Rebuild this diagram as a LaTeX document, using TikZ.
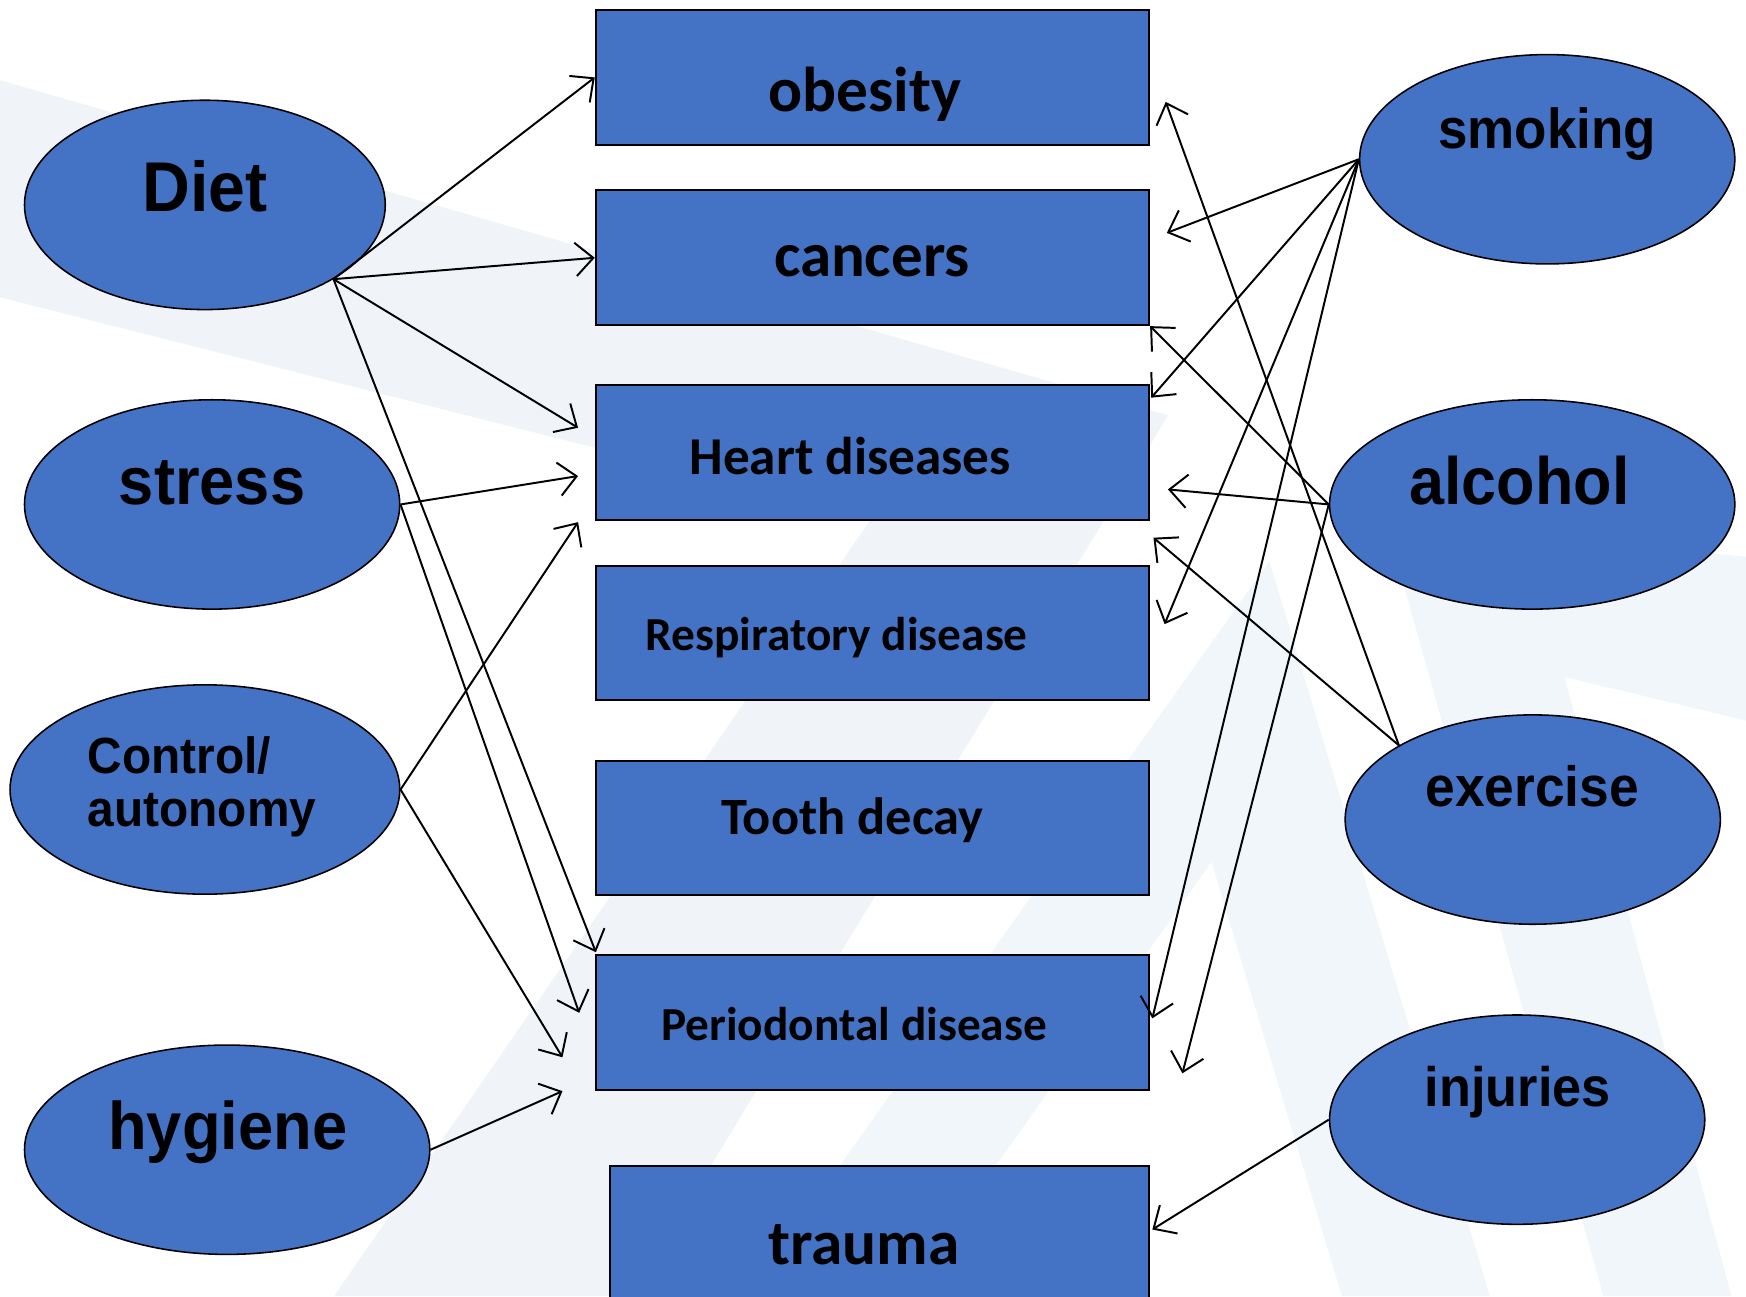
\documentclass[tikz,border=0pt]{standalone}
\usepackage{fontspec}
\setmainfont{Carlito}
\newfontfamily\ovalfont[FakeStretch=0.94]{Liberation Sans}
\usetikzlibrary{shapes.geometric,arrows.meta}
\definecolor{boxblue}{RGB}{68,114,196}
\definecolor{markgrey}{RGB}{240,244,248}
\definecolor{markblue}{RGB}{240,246,250}

\begin{document}
\begin{tikzpicture}[x=0.1mm,y=-0.1mm,
  disease/.style={draw=black,line width=0.5pt,fill=boxblue,minimum width=49.7mm,minimum height=12.1mm,inner sep=0pt},
  factor/.style={ellipse,draw=black,line width=0.4pt,fill=boxblue,minimum height=18.8mm,inner sep=0pt},
  dlabel/.style={anchor=base,inner sep=0pt,font=\bfseries\fontsize{#1}{#1}\selectfont},
  flabel/.style={anchor=base,inner sep=0pt,font=\ovalfont\bfseries\fontsize{#1}{#1}\selectfont},
  link/.style={line width=0.5pt,-{Straight Barb[length=1.6mm,width=3mm]}}]
      \useasboundingbox (0,0) rectangle (1568,1164);
      % watermark
      \fill[markgrey] (0,72) -- (1049,373) -- (567,1164) -- (300,1164) -- (783,465) -- (0,267) -- cycle;
      \fill[markblue] (1140,504) -- (1338,1164) -- (1205,1164) -- (1088,774) -- (811,1164) -- (671,1164) -- cycle;
      \fill[markblue] (1245,470) -- (1568,500) -- (1568,647) -- (1405,608) -- (1555,1164) -- (1440,1164) -- cycle;
      % diseases
      \node[disease] (obesity) at (783.5,69.5) {};
      \node[disease] (cancers) at (783.5,231.5) {};
      \node[disease] (heart) at (783.5,406.5) {};
      \node[disease] (resp) at (783.5,568.5) {};
      \node[disease] (tooth) at (783.5,743.5) {};
      \node[disease] (perio) at (783.5,918.5) {};
      \node[disease,minimum width=48.4mm,minimum height=15mm] (trauma) at (790,1122) {};
      \node[dlabel=16.2] (obesity-l) at (776.5,100) {obesity};
      \node[dlabel=16.1] (cancers-l) at (783,248) {cancers};
      \node[dlabel=13.6] (heart-l) at (763.5,426.5) {Heart diseases};
      \node[dlabel=12.1] (resp-l) at (751.5,584) {Respiratory disease};
      \node[dlabel=13.4] (tooth-l) at (765.5,749) {Tooth decay};
      \node[dlabel=12.1] (perio-l) at (767,934) {Periodontal disease};
      \node[dlabel=16.2] (trauma-l) at (776,1136) {trauma};
      % factors
      \node[factor,minimum width=32.4mm] (diet) at (184,184) {};
      \node[factor,minimum width=33.7mm] (stress) at (190.5,453) {};
      \node[factor,minimum width=35mm] (control) at (184,709) {};
      \node[factor,minimum width=36.4mm] (hygiene) at (204,1032.5) {};
      \node[factor,minimum width=33.7mm] (smoking) at (1389.5,143) {};
      \node[factor,minimum width=36.4mm] (alcohol) at (1376,453) {};
      \node[factor,minimum width=33.7mm] (exercise) at (1376.5,736) {};
      \node[factor,minimum width=33.7mm] (injuries) at (1362.5,1005.5) {};
      \node[flabel=18] (diet-l) at (184,190) {Diet};
      \node[flabel=17.2] (stress-l) at (190.5,453) {stress};
      \node[flabel=13,font=\ovalfont\bfseries\fontsize{13}{13.6}\selectfont,align=left,anchor=north west] (control-l) at (78,661) {Control/\\autonomy};
      \node[flabel=17.2] (hygiene-l) at (204.5,1032) {hygiene};
      \node[flabel=14.4] (smoking-l) at (1389.5,133) {smoking};
      \node[flabel=17.1] (alcohol-l) at (1364.5,453) {alcohol};
      \node[flabel=14.5] (exercise-l) at (1376,724) {exercise};
      \node[flabel=14.2] (injuries-l) at (1363,994) {injuries};
      % links
      \draw[link] (diet.-30) -- (obesity.west);
      \draw[link] (diet.-30) -- (cancers.west);
      \draw[link] (diet.-30) -- ([shift={(-15,39)}]heart.north west);
      \draw[link] (diet.-30) -- ([shift={(1,-2)}]perio.north west);
      \draw[link] (stress.east) -- ([shift={(-15,21)}]heart.west);
      \draw[link] (stress.east) -- ([shift={(-14,-9)}]perio.west);
      \draw[link] (control.east) -- ([shift={(-15,1)}]heart.south west);
      \draw[link] (control.east) -- ([shift={(-29,31)}]perio.west);
      \draw[link] (hygiene.east) -- ([shift={(-29,0)}]perio.south west);
      \draw[link] (smoking.west) -- ([shift={(15,39)}]cancers.north east);
      \draw[link] (smoking.west) -- ([shift={(1,12)}]heart.north east);
      \draw[link] (smoking.west) -- ([shift={(13,-8)}]resp.east);
      \draw[link] (smoking.west) -- ([shift={(2,-4)}]perio.east);
      \draw[link] (alcohol.west) -- ([shift={(16,33)}]heart.east);
      \draw[link] (alcohol.west) -- (cancers.south east);
      \draw[link] (alcohol.west) -- ([shift={(29,-16)}]perio.south east);
      \draw[link] (exercise.151) -- ([shift={(14,22)}]obesity.east);
      \draw[link] (exercise.151) -- ([shift={(3,15)}]heart.south east);
      \draw[link] (injuries.west) -- ([shift={(2,58)}]trauma.north east);
\end{tikzpicture}
\end{document}
